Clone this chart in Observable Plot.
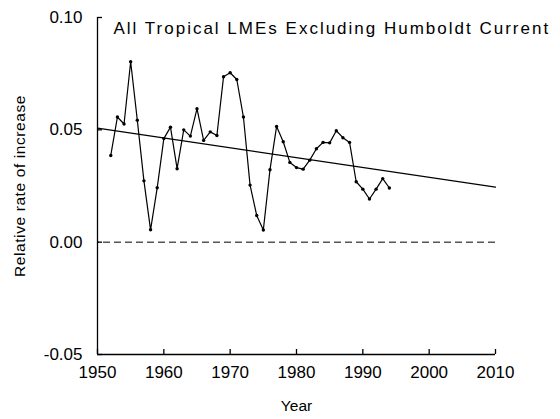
<!DOCTYPE html>
<html>
<head>
<meta charset="utf-8">
<script src="https://cdn.jsdelivr.net/npm/d3@7"></script>
<script src="https://cdn.jsdelivr.net/npm/@observablehq/plot@0.6"></script>
<style>
  html, body { margin: 0; padding: 0; background: #fff; }
  #chart svg { display: block; }
</style>
</head>
<body>
<div id="chart"></div>
<script>
const titleText = "All Tropical LMEs Excluding Humboldt Current";
const xLabel = "Year";
const yLabel = "Relative rate of increase";

const years = [1952, 1953, 1954, 1955, 1956, 1957, 1958, 1959, 1960, 1961,
               1962, 1963, 1964, 1965, 1966, 1967, 1968, 1969, 1970, 1971,
               1972, 1973, 1974, 1975, 1976, 1977, 1978, 1979, 1980, 1981,
               1982, 1983, 1984, 1985, 1986, 1987, 1988, 1989, 1990, 1991,
               1992, 1993, 1994];
const rates = [0.0386, 0.0557, 0.0526, 0.0803, 0.0543, 0.0273, 0.0055, 0.0242, 0.0461, 0.0512,
               0.0327, 0.0500, 0.0472, 0.0594, 0.0453, 0.0491, 0.0475, 0.0736, 0.0754, 0.0724,
               0.0557, 0.0254, 0.0119, 0.0054, 0.0322, 0.0515, 0.0447, 0.0355, 0.0332, 0.0325,
               0.0365, 0.0416, 0.0444, 0.0442, 0.0496, 0.0465, 0.0444, 0.0269, 0.0236, 0.0192,
               0.0236, 0.0283, 0.0241];

const trendYears = [1950, 2010];
const trendRates = [0.0508, 0.0245];

const xTicks = [1950, 1960, 1970, 1980, 1990, 2000, 2010];
const yTicks = [-0.05, 0.00, 0.05, 0.10];

const series = years.map((y, i) => ({year: y, rate: rates[i]}));
const trend = trendYears.map((y, i) => ({year: y, rate: trendRates[i]}));

const chart = Plot.plot({
  width: 560,
  height: 419,
  marginLeft: 97,
  marginRight: 65,
  marginTop: 17,
  marginBottom: 65,
  style: {fontFamily: "'Liberation Sans', Arial, sans-serif", fontSize: "16px", background: "#fff", color: "#000"},
  x: {domain: [1950, 2010]},
  y: {domain: [-0.05, 0.10]},
  marks: [
    Plot.ruleY([0], {stroke: "#000", strokeWidth: 1, strokeDasharray: "7,4", strokeDashoffset: -6}),
    Plot.line(trend, {x: "year", y: "rate", stroke: "#000", strokeWidth: 1.2}),
    Plot.line(series, {x: "year", y: "rate", stroke: "#000", strokeWidth: 1.2}),
    Plot.dot(series, {x: "year", y: "rate", r: 1.7, fill: "#000", stroke: null}),
    Plot.ruleX(xTicks.slice(0, 1), {stroke: "#000", strokeWidth: 1.3}),
    Plot.ruleY(yTicks.slice(0, 1), {stroke: "#000", strokeWidth: 1.3}),
    Plot.axisX({ticks: xTicks, tickSize: -5, tickFormat: () => "", label: null, strokeWidth: 1.3}),
    Plot.axisX({ticks: xTicks, tickSize: 0, tickPadding: 11, tickFormat: d => String(d), fontSize: 17,
                label: xLabel, labelAnchor: "center", labelArrow: "none", labelOffset: 56}),
    Plot.axisY({ticks: yTicks, tickSize: -5, tickFormat: () => "", label: null, strokeWidth: 1.3}),
    Plot.axisY({ticks: yTicks, tickSize: 0, tickPadding: 15, tickFormat: d => d.toFixed(2), fontSize: 17,
                label: yLabel, labelAnchor: "center", labelArrow: "none", labelOffset: 84}),
    Plot.text([titleText], {frameAnchor: "top-left", dx: 16, dy: 4, textAnchor: "start", lineAnchor: "top", fontSize: 17})
  ]
});

document.getElementById("chart").appendChild(chart);

// letter spacing tweaks to mimic the reference's wide type
const svg = d3.select(chart);
svg.selectAll("text").each(function() {
  const t = d3.select(this);
  const s = t.text();
  if (s === titleText) t.style("letter-spacing", "2px");
  if (s === yLabel) t.style("letter-spacing", "0.6px").style("font-size", "15.5px");
  if (s === xLabel) t.style("font-size", "15.5px");
});
</script>
</body>
</html>
